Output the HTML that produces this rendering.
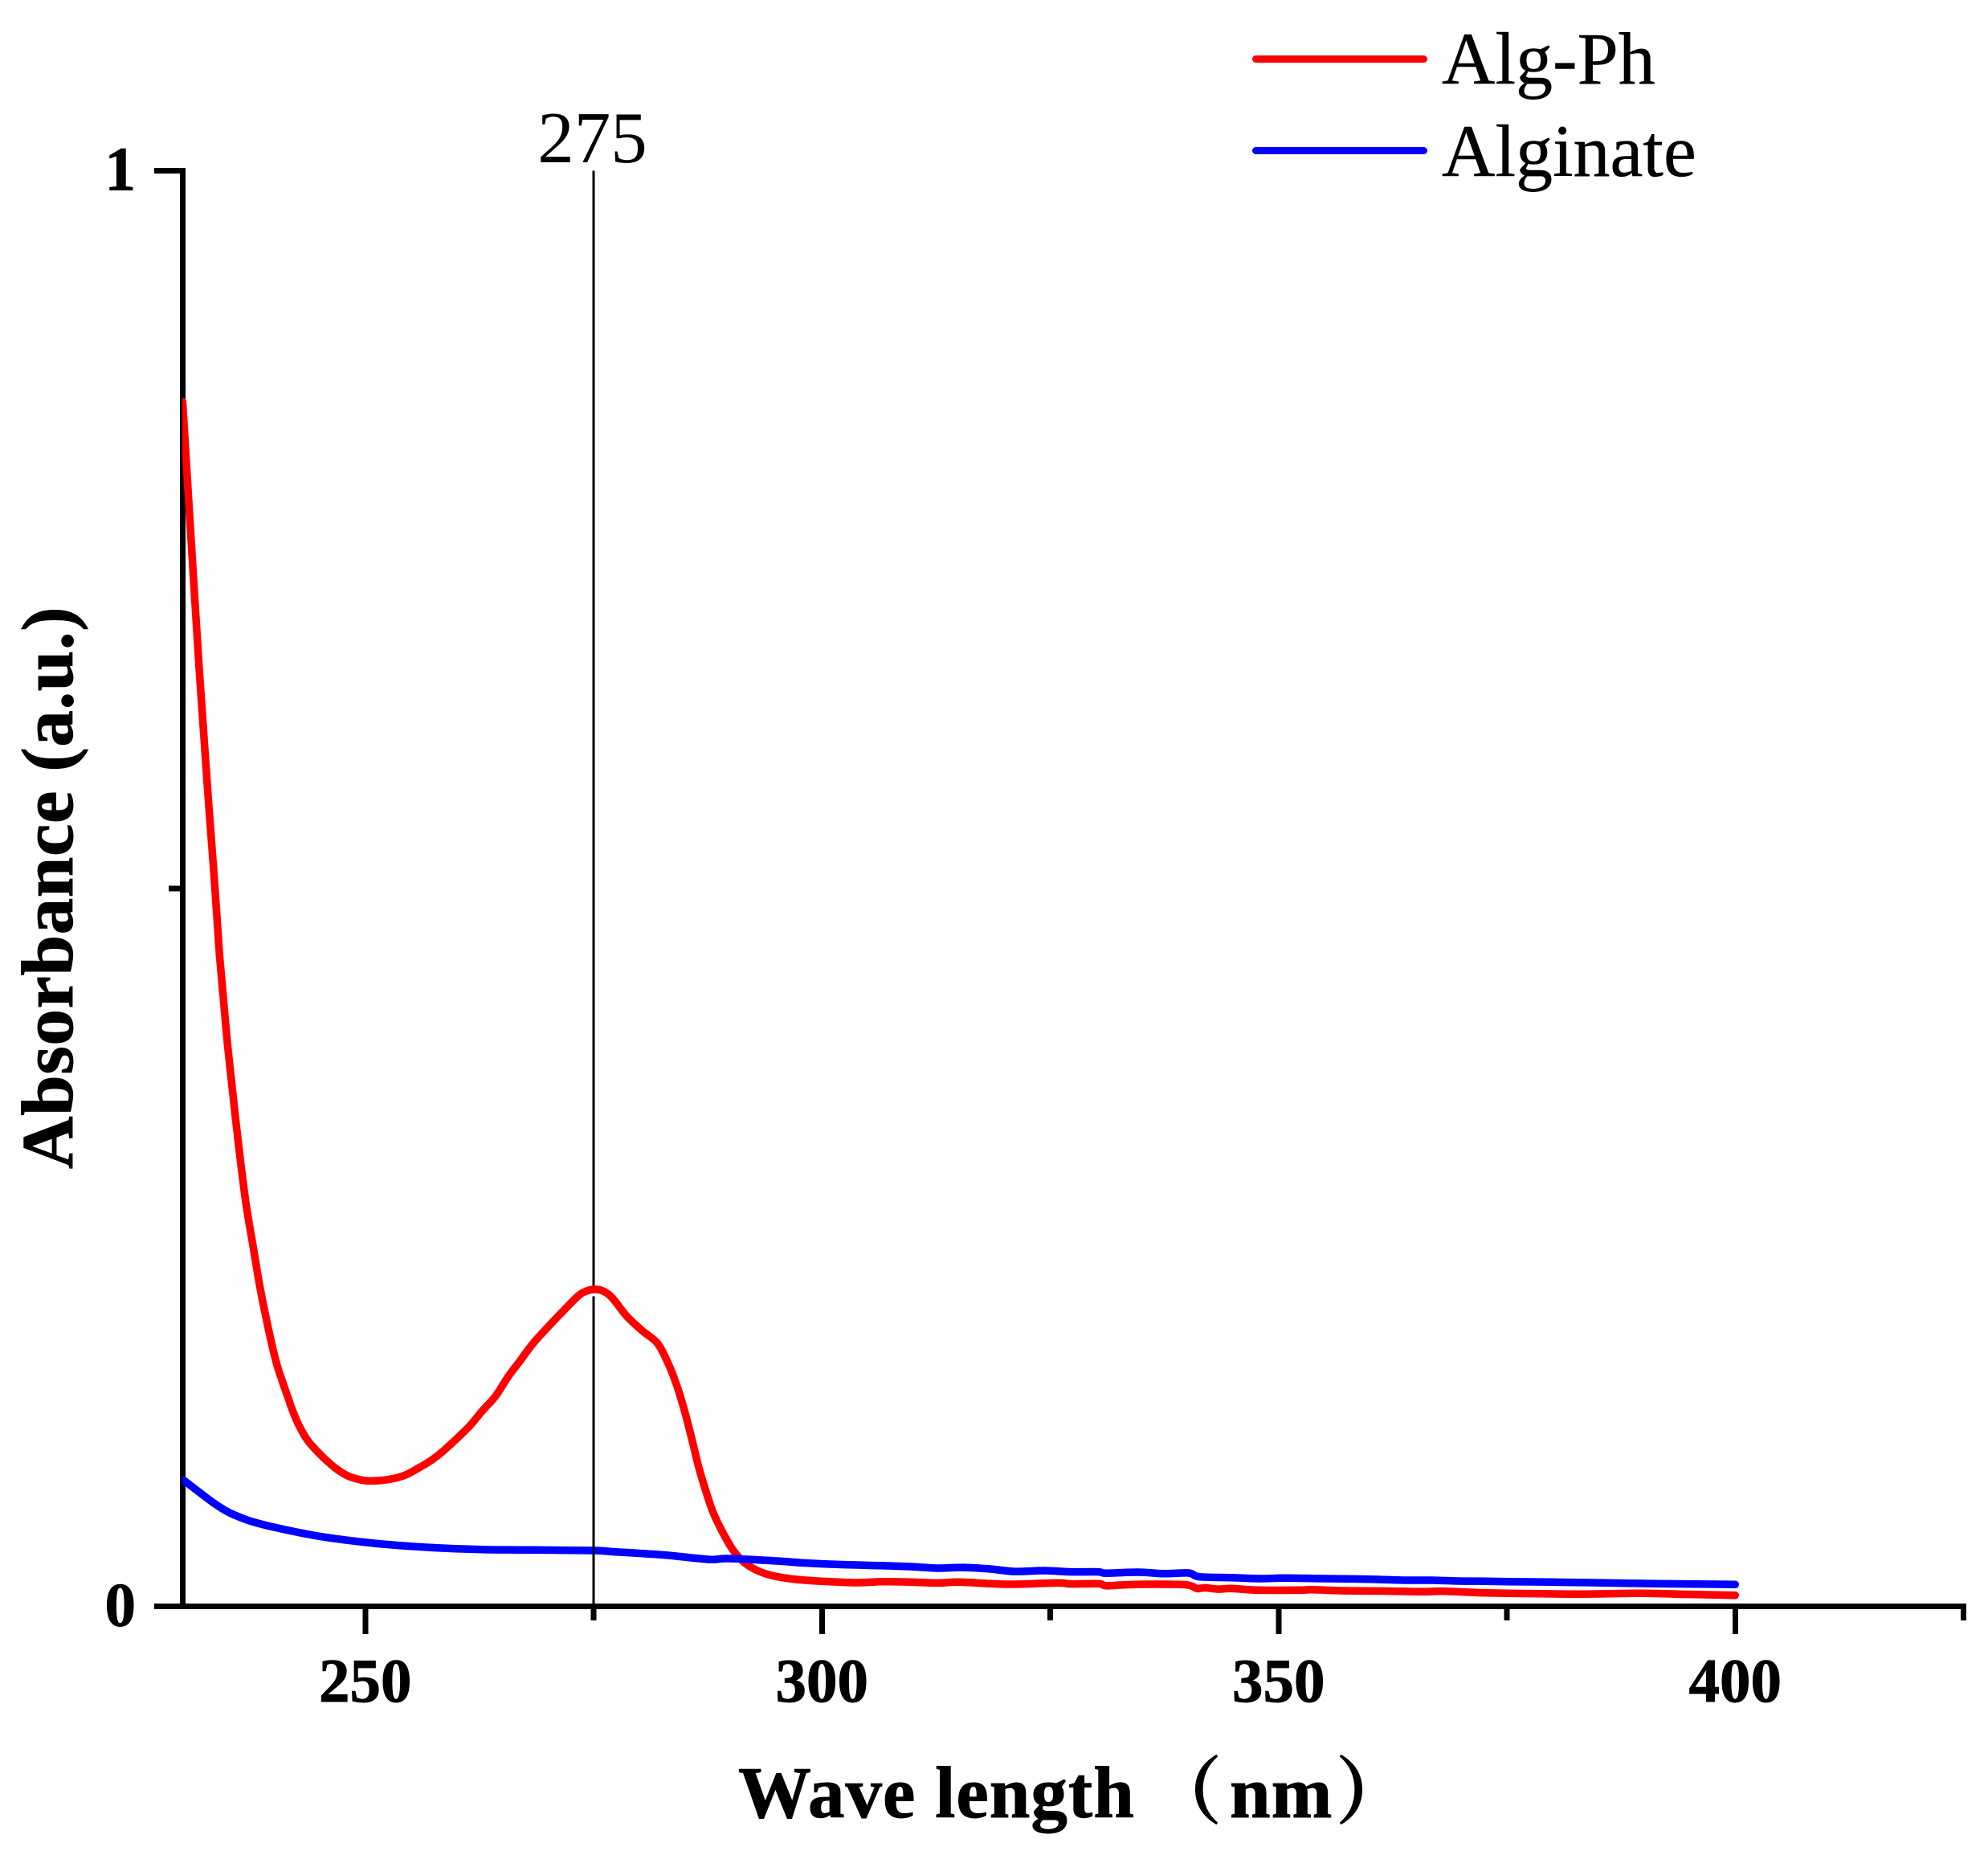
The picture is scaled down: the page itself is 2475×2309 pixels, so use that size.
<!DOCTYPE html>
<html lang="en">
<head>
<meta charset="utf-8">
<title>Absorbance spectra of Alg-Ph and Alginate</title>
<style>
  html, body { margin: 0; padding: 0; background: #fff; }
  #chart { display: block; width: 2475px; height: 2309px; }
  text { font-family: "Liberation Serif", "Noto Serif CJK SC", serif; fill: #000; }
  .bold { font-weight: bold; stroke: #000; stroke-width: 0.9px; }
  .tick-label { font-size: 77px; font-weight: bold; stroke: #000; stroke-width: 0.9px; }
  .curve { fill: none; stroke-width: 9.5; stroke-linejoin: round; stroke-linecap: round; }
  .legend-text { font-size: 92px; stroke: #000; stroke-width: 0.4px; }
</style>
</head>
<body>
<svg id="chart" xmlns="http://www.w3.org/2000/svg" width="2475" height="2309" viewBox="0 0 2475 2309">
  <defs>
    <clipPath id="plot-clip"><rect x="227" y="0" width="2248" height="2309"></rect></clipPath>
  </defs>
  <rect x="0" y="0" width="2475" height="2309" fill="#fff"></rect>
  <g id="ref-under"></g>
  <g id="axes"></g>
  <g id="series" clip-path="url(#plot-clip)"></g>
  <g id="ref-over"></g>
  <g id="labels"></g>

  <text x="737.5" y="202" text-anchor="middle" font-size="91">275</text>

  <text x="90" y="1105" class="bold" font-size="91" text-anchor="middle" letter-spacing="0.6" transform="rotate(-90 90 1105)">Absorbance (a.u.)</text>

  <text y="2262" class="bold" font-size="91"><tspan x="919" letter-spacing="1">Wave length</tspan><tspan x="1430" style="font-family:'Noto Serif CJK SC',serif">（</tspan><tspan x="1531" letter-spacing="1">nm</tspan><tspan x="1663" style="font-family:'Noto Serif CJK SC',serif">）</tspan></text>

  <g>
    <line x1="1563.5" y1="73.5" x2="1772.5" y2="73.5" stroke="#ff0000" stroke-width="9" stroke-linecap="round"></line>
    <text x="1795" y="104" class="legend-text">Alg-Ph</text>
    <line x1="1563.5" y1="187.5" x2="1772.5" y2="187.5" stroke="#0000ff" stroke-width="9" stroke-linecap="round"></line>
    <text x="1795" y="219" class="legend-text">Alginate</text>
  </g>
</svg>

<script>
var xMajorTicks = [250, 300, 350, 400];
var xMinorTicks = [275, 325, 375, 425];
var yMajorTicks = [0, 1];
var yMinorTicks = [0.5];
var peakWavelength = 275;

var algPhWavelengths = [230,230.76,231.81,232.78,233.44,234.05,234.83,235.77,236.83,237.7,238.43,239.31,240.19,240.93,241.6,241.95,242.69,243.71,245.18,246.65,248.11,249.58,250.75,252.48,254.24,255.73,257.2,258.64,261.28,262.77,264.24,265.67,266.88,268.31,269.81,271.57,273.32,274.2,275.08,275.96,276.99,278.6,280.36,281.97,283.15,284.17,285.05,285.79,286.52,287.4,288.1,289.16,290.3,291.5,292.94,294.7,297.33,300.85,303.84,306.74,309.65,312.64,314.93,318.44,321.08,325.83,327.24,330.23,331.11,333.13,336.03,339.9,341.05,341.93,343.42,344.83,347.82,352.22,353.63,357.15,361.02,365.41,368.32,372.72,378.61,383,389.86,394.7,400];
var algPhValues = [0.8391,0.7602,0.653,0.5649,0.509,0.453,0.397,0.3411,0.2851,0.2515,0.2236,0.1956,0.1713,0.1564,0.1443,0.1378,0.1266,0.1154,0.1051,0.0967,0.0908,0.088,0.0874,0.0883,0.0911,0.096,0.1016,0.1088,0.1247,0.1359,0.1463,0.1603,0.1704,0.1827,0.1933,0.2051,0.2163,0.2196,0.2208,0.2198,0.2152,0.2023,0.1918,0.1834,0.1694,0.1527,0.134,0.1156,0.0967,0.0781,0.0652,0.0512,0.0389,0.0305,0.0249,0.0212,0.0187,0.0172,0.0165,0.0172,0.0169,0.0163,0.0169,0.0158,0.0154,0.0163,0.0156,0.0158,0.0144,0.015,0.0154,0.015,0.0124,0.0129,0.012,0.0124,0.0113,0.0113,0.0116,0.0109,0.0107,0.0102,0.0105,0.0094,0.0088,0.0085,0.0091,0.0084,0.0077];

var alginateWavelengths = [230,233.92,236.39,239.29,245.18,251.07,256.88,262.77,268.66,275,277.43,280.36,283.26,287.66,289.77,295.05,297.95,300.85,303.84,306.74,309.65,312.64,315.54,318.44,321.08,324.33,327.24,330.23,331.11,334.63,337.53,340.17,341.31,344.83,347.82,350.72,355.12,360.13,363.91,366.81,369.8,372.72,375.97,380.02,384.41,390.3,400];
var alginateValues = [0.0884,0.0697,0.0618,0.0562,0.0486,0.0439,0.0411,0.0396,0.0393,0.0389,0.0379,0.0368,0.0355,0.0327,0.0333,0.0316,0.0303,0.0294,0.0288,0.0283,0.0277,0.0266,0.0271,0.026,0.0243,0.0249,0.024,0.024,0.0231,0.0238,0.0228,0.0232,0.0206,0.02,0.0193,0.0197,0.0193,0.0189,0.0182,0.0182,0.0176,0.0175,0.0171,0.0169,0.0165,0.0159,0.0152];

var SVG_NS = 'http://www.w3.org/2000/svg';
var xAxisLeft = 192, xAxisRight = 2448, yAxisBottom = 1999.5;

function xScale(w) { return 454.8 + (w - 250) * 11.37; }
function yScale(v) { return 1999.5 - v * 1787; }

function makeLine(parent, x1, y1, x2, y2, width, color) {
  var el = document.createElementNS(SVG_NS, 'line');
  el.setAttribute('x1', x1);
  el.setAttribute('y1', y1);
  el.setAttribute('x2', x2);
  el.setAttribute('y2', y2);
  el.setAttribute('stroke', color);
  el.setAttribute('stroke-width', width);
  el.setAttribute('shape-rendering', 'crispEdges');
  parent.appendChild(el);
  return el;
}

function makeLabel(parent, x, y, anchor, content) {
  var el = document.createElementNS(SVG_NS, 'text');
  el.setAttribute('x', x);
  el.setAttribute('y', y);
  el.setAttribute('text-anchor', anchor);
  el.setAttribute('class', 'tick-label');
  el.textContent = content;
  parent.appendChild(el);
  return el;
}

function makeCurve(parent, xs, ys, color) {
  var px = xs.map(xScale);
  var py = ys.map(yScale);
  var d = 'M' + px[0].toFixed(1) + ' ' + py[0].toFixed(1);
  for (var i = 0; i < px.length - 1; i++) {
    var a = Math.max(i - 1, 0);
    var b = Math.min(i + 2, px.length - 1);
    var c1x = px[i] + (px[i + 1] - px[a]) / 6;
    var c1y = py[i] + (py[i + 1] - py[a]) / 6;
    var c2x = px[i + 1] - (px[b] - px[i]) / 6;
    var c2y = py[i + 1] - (py[b] - py[i]) / 6;
    d += ' C' + c1x.toFixed(1) + ' ' + c1y.toFixed(1) + ' ' + c2x.toFixed(1) + ' ' + c2y.toFixed(1) + ' ' + px[i + 1].toFixed(1) + ' ' + py[i + 1].toFixed(1);
  }
  var el = document.createElementNS(SVG_NS, 'path');
  el.setAttribute('d', d);
  el.setAttribute('class', 'curve');
  el.setAttribute('stroke', color);
  parent.appendChild(el);
  return el;
}

var axes = document.getElementById('axes');
var labels = document.getElementById('labels');
var series = document.getElementById('series');
var refUnder = document.getElementById('ref-under');
var refOver = document.getElementById('ref-over');

var xAxisLine = makeLine(axes, xAxisLeft, yAxisBottom, xAxisRight, yAxisBottom, 7, '#000');



var yAxisLine = makeLine(axes, 227.5, yScale(1) - 3.5, 227.5, yAxisBottom, 7, '#000');



xMajorTicks.forEach(function (w) {
  var tick = makeLine(axes, xScale(w), yAxisBottom, xScale(w), 2034, 7, '#000');
  
  
  var label = makeLabel(labels, xScale(w), 2118, 'middle', String(w));
  
  
});

xMinorTicks.forEach(function (w) {
  var tick = makeLine(axes, xScale(w), yAxisBottom, xScale(w), 2017, 7, '#000');
  
  
});

yMajorTicks.forEach(function (v) {
  var tick = makeLine(axes, 192, yScale(v), 231, yScale(v), 7, '#000');
  
  
  var label = makeLabel(labels, 169, yScale(v) + 24, 'end', String(v));
  
  
});

yMinorTicks.forEach(function (v) {
  var tick = makeLine(axes, 210, yScale(v), 231, yScale(v), 7, '#000');
  
  
});

var markerUpper = makeLine(refUnder, xScale(peakWavelength), yScale(1), xScale(peakWavelength), yScale(0.22), 3, '#000');



var redCurve = makeCurve(series, algPhWavelengths, algPhValues, '#ff0000');



var blueCurve = makeCurve(series, alginateWavelengths, alginateValues, '#0000ff');



var markerLower = makeLine(refOver, xScale(peakWavelength), yScale(0.216), xScale(peakWavelength), yAxisBottom, 3, '#000');


</script>
</body>
</html>
